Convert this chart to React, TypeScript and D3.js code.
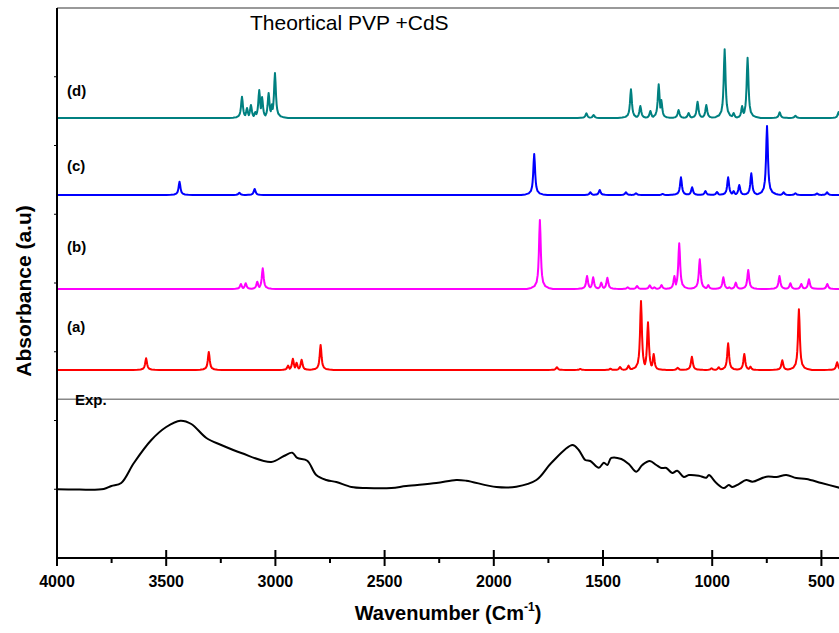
import React from 'react';
import * as d3 from 'd3';

// ---------- data ----------
const xTicksMajor = [4000, 3500, 3000, 2500, 2000, 1500, 1000, 500];
const xTicksMinor = [3750, 3250, 2750, 2250, 1750, 1250, 750];
const yTicks = [1, 2, 3, 4, 5, 6, 7];

const seriesLabels = ['(a)', '(b)', '(c)', '(d)'];
const seriesColors = ['#ff0000', '#ff00ff', '#0000ff', '#008080'];
const seriesBaselines = [2.735, 3.913, 5.28, 6.4];

// [wavenumber, peak height (a.u.)]
const peaksA: [number, number][] = [
  [3592, 0.17], [3305, 0.262], [2942, 0.063], [2920, 0.164], [2903, 0.106], [2880, 0.15],
  [2793, 0.364], [1711, 0.039], [1604, 0.015], [1466, 0.019], [1422, 0.044], [1383, 0.063],
  [1326, 1.004], [1294, 0.694], [1268, 0.233], [1158, 0.033], [1093, 0.193], [1003, 0.025],
  [970, 0.039], [927, 0.388], [853, 0.233], [825, 0.048], [679, 0.141], [603, 0.883], [428, 0.112],
];
const peaksB: [number, number][] = [
  [3158, 0.073], [3136, 0.083], [3083, 0.106], [3058, 0.301], [1789, 1.004], [1573, 0.189],
  [1545, 0.17], [1508, 0.092], [1480, 0.164], [1387, 0.025], [1344, 0.044], [1286, 0.054],
  [1265, 0.025], [1232, 0.058], [1173, 0.189], [1151, 0.665], [1057, 0.432], [1018, 0.058],
  [949, 0.17], [922, 0.025], [892, 0.092], [835, 0.276], [692, 0.189], [642, 0.083],
  [592, 0.073], [557, 0.141], [473, 0.073],
];
const peaksC: [number, number][] = [
  [3439, 0.193], [3165, 0.033], [3095, 0.087], [1815, 0.596], [1558, 0.039], [1515, 0.073],
  [1395, 0.039], [1349, 0.025], [1227, 0.015], [1143, 0.257], [1092, 0.112], [1031, 0.058],
  [978, 0.044], [927, 0.257], [902, 0.058], [876, 0.145], [821, 0.316], [749, 1.004],
  [673, 0.039], [619, 0.025], [520, 0.022], [474, 0.039],
];
const peaksD: [number, number][] = [
  [3153, 0.31], [3130, 0.145], [3112, 0.19], [3092, 0.087], [3074, 0.407], [3061, 0.305],
  [3031, 0.364], [3016, 0.2], [3002, 0.655], [1576, 0.068], [1543, 0.044], [1372, 0.417],
  [1329, 0.175], [1283, 0.102], [1245, 0.49], [1233, 0.262], [1154, 0.116], [1108, 0.073],
  [1067, 0.237], [1027, 0.189], [943, 1.0], [902, 0.073], [863, 0.175], [838, 0.877],
  [691, 0.083], [619, 0.033], [421, 0.087],
];
const seriesPeaks = [peaksA, peaksB, peaksC, peaksD];

// experimental spectrum [wavenumber, absorbance]
const expData: [number, number][] = [
  [4000, 0.999], [3900, 0.995], [3786, 1.004], [3751, 1.047], [3706, 1.091], [3648, 1.382],
  [3568, 1.716], [3500, 1.905], [3435, 1.997], [3385, 1.949], [3316, 1.745], [3248, 1.644],
  [3156, 1.527], [3019, 1.396], [2961, 1.484], [2923, 1.532], [2900, 1.455], [2854, 1.415],
  [2813, 1.207], [2767, 1.135], [2721, 1.105], [2652, 1.033], [2584, 1.018], [2469, 1.018],
  [2401, 1.047], [2263, 1.091], [2172, 1.135], [2126, 1.124], [1988, 1.033], [1897, 1.037],
  [1805, 1.135], [1737, 1.382], [1640, 1.644], [1611, 1.571], [1581, 1.425], [1558, 1.411],
  [1519, 1.313], [1496, 1.386], [1480, 1.353], [1462, 1.455], [1416, 1.44], [1382, 1.367],
  [1347, 1.255], [1320, 1.353], [1286, 1.411], [1256, 1.353], [1233, 1.309], [1210, 1.309],
  [1183, 1.236], [1160, 1.27], [1130, 1.178], [1107, 1.207], [1061, 1.197], [1027, 1.168],
  [1015, 1.207], [981, 1.091], [947, 1.018], [924, 1.062], [908, 1.033], [878, 1.076],
  [844, 1.135], [816, 1.11], [752, 1.183], [706, 1.178], [661, 1.207], [615, 1.164],
  [569, 1.149], [500, 1.091], [413, 1.018],
];
const expBaselineMark = 2.31;

// ---------- layout ----------
const W = 839, H = 633;
const x = d3.scaleLinear().domain([4000, 400]).range([57, 57 + 3600 * 0.2184]);
const y = d3.scaleLinear().domain([0, 8]).range([558, 8]);

// peak glyph (offset in half-widths, fraction of height)
const GLYPH: [number, number][] = [
  [0, 1], [0.5, 0.8], [1, 0.5], [1.5, 0.31], [2, 0.2], [3, 0.1], [5, 0.04], [8, 0.015], [12, 0],
];
const HW = 5;

function glyphFrac(d: number): number {
  const a = Math.abs(d);
  for (let i = 0; i < GLYPH.length - 1; i++) {
    const [d0, f0] = GLYPH[i];
    const [d1, f1] = GLYPH[i + 1];
    if (a >= d0 && a <= d1) return f0 + ((a - d0) / (d1 - d0)) * (f1 - f0);
  }
  return 0;
}

function spectrumPoints(peaks: [number, number][], base: number): [number, number][] {
  const xs = new Set<number>([4000, 400]);
  peaks.forEach(([c]) => {
    GLYPH.forEach(([d]) => {
      xs.add(c + d * HW);
      xs.add(c - d * HW);
    });
  });
  const sorted = Array.from(xs).sort((a, b) => b - a);
  return sorted.map((wn) => {
    let m = 0;
    peaks.forEach(([c, h]) => {
      const v = h * glyphFrac((wn - c) / HW);
      if (v > m) m = v;
    });
    return [wn, base + m];
  });
}

const line = d3
  .line<[number, number]>()
  .x((d) => x(d[0]))
  .y((d) => y(d[1]));

const smoothLine = d3
  .line<[number, number]>()
  .x((d) => x(d[0]))
  .y((d) => y(d[1]))
  .curve(d3.curveCatmullRom.alpha(0.5));

const FONT = '"Liberation Sans", Arial, Helvetica, sans-serif';

export default function App() {
  const xLeft = x(4000);
  const xRight = W;
  const axisY = y(0);
  return (
    <svg
      width={W}
      height={H}
      style={{ position: 'absolute', left: 0, top: 0, background: '#fff' }}
      fontFamily={FONT}
    >
      <rect x={0} y={0} width={W} height={H} fill="#fff" />
      {/* top frame */}
      <line x1={xLeft} x2={xRight} y1={y(8)} y2={y(8)} stroke="#777" strokeWidth={1.5} />
      {/* separator line for Exp. */}
      <line x1={xLeft} x2={xRight} y1={y(expBaselineMark)} y2={y(expBaselineMark)} stroke="#888" strokeWidth={1.5} />

      {/* spectra */}
      {seriesPeaks.map((pk, i) => (
        <path
          key={i}
          d={line(spectrumPoints(pk, seriesBaselines[i])) || ''}
          fill="none"
          stroke={seriesColors[i]}
          strokeWidth={2}
          strokeLinejoin="round"
        />
      ))}
      <path d={smoothLine(expData) || ''} fill="none" stroke="#000" strokeWidth={2} strokeLinejoin="round" />

      {/* axes */}
      <line x1={xLeft} x2={xLeft} y1={y(8)} y2={axisY + 8} stroke="#000" strokeWidth={2} />
      <line x1={xLeft} x2={xRight} y1={axisY} y2={axisY} stroke="#000" strokeWidth={2} />
      {yTicks.map((t) => (
        <line key={t} x1={xLeft - 3} x2={xLeft} y1={y(t)} y2={y(t)} stroke="#000" strokeWidth={1} />
      ))}
      {xTicksMajor.map((t) => (
        <g key={t}>
          <line x1={x(t)} x2={x(t)} y1={axisY - 8} y2={axisY + 8} stroke="#000" strokeWidth={2} />
          <text x={x(t)} y={axisY + 29} textAnchor="middle" fontSize={16} fontWeight="bold">
            {t}
          </text>
        </g>
      ))}
      {xTicksMinor.map((t) => (
        <line key={t} x1={x(t)} x2={x(t)} y1={axisY} y2={axisY + 5} stroke="#000" strokeWidth={2} />
      ))}

      {/* labels */}
      <text x={250} y={30} fontSize={21}>
        Theortical PVP +CdS
      </text>
      {seriesLabels.map((lb, i) => (
        <text key={lb} x={67} y={[332, 252, 171, 96][i]} fontSize={15} fontWeight="bold">
          {lb}
        </text>
      ))}
      <text x={75} y={405} fontSize={15} fontWeight="bold">
        Exp.
      </text>
      <text
        transform={`translate(31, 291) rotate(-90)`}
        textAnchor="middle"
        fontSize={21}
        fontWeight="bold"
      >
        Absorbance (a.u)
      </text>
      <text x={448} y={620} textAnchor="middle" fontSize={20} fontWeight="bold">
        Wavenumber (Cm
        <tspan fontSize={12} dy={-9}>
          -1
        </tspan>
        <tspan dy={9}>)</tspan>
      </text>
    </svg>
  );
}
